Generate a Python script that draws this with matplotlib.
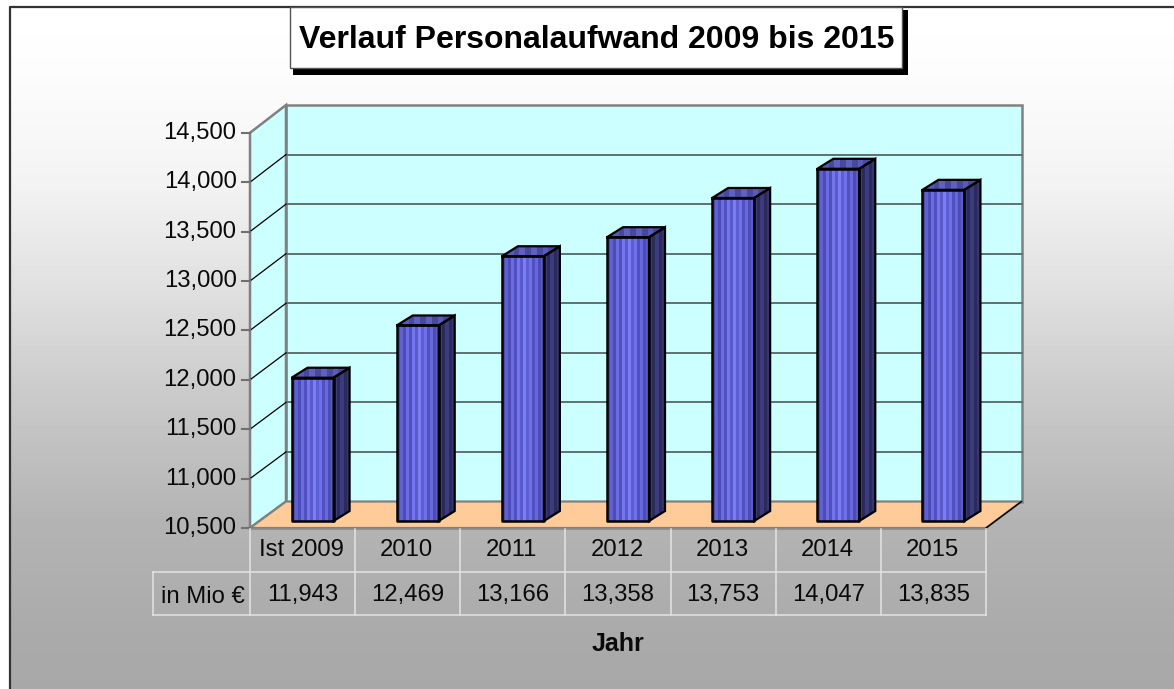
import numpy as np
import matplotlib
matplotlib.use("Agg")
import matplotlib.pyplot as plt
from matplotlib.colors import to_rgb
from matplotlib.patches import Polygon, Rectangle

plt.rcParams['font.family'] = ['Liberation Sans', 'DejaVu Sans']

title = "Verlauf Personalaufwand 2009 bis 2015"
x_title = "Jahr"
row_label = "in Mio €"
categories = ["Ist 2009", "2010", "2011", "2012", "2013", "2014", "2015"]
values = [11943, 12469, 13166, 13358, 13753, 14047, 13835]
y_ticks = [10500, 11000, 11500, 12000, 12500, 13000, 13500, 14000, 14500]

W, H = 1174, 689

# front plane of the fake 3d box, in pixels
x0, x1 = 250, 986
y_base = 528
front_scale = 49.4 / 500
# back wall
xb0, xb1 = 286, 1021.5
wall_base = 501.5
wall_scale = 49.56 / 500
# bars stand a bit behind the front edge
dx_bar, dy_bar = 16, -10
bar_w = 42
bar_shift = 10
bar_base = 521
bar_scale = 49.65 / 500


def front_y(v):
    return y_base - (v - y_ticks[0]) * front_scale


def wall_y(v):
    return wall_base - (v - y_ticks[0]) * wall_scale


def stripes(ax, colors, x_left, x_right, clip=None, y_top=0, y_bot=1):
    arr = np.array([[to_rgb(c) for c in colors]])
    im = ax.imshow(arr, extent=(x_left, x_right, y_bot, y_top), aspect='auto',
                   interpolation='nearest', zorder=4)
    if clip is not None:
        patch = Polygon(clip, closed=True, transform=ax.transData)
        im.set_clip_path(patch)


fig = plt.figure(figsize=(W / 100, H / 100), dpi=100)
ax = fig.add_axes([0, 0, 1, 1])
ax.axis('off')

# background gradient, white at the top and grey at the bottom
rows = np.arange(8, H)
grad = np.interp(rows, [8, 60, 175, 289, 404, 519, 634, 689],
                 [255, 253, 244, 224, 200, 180, 170, 168]).reshape(-1, 1) / 255
ax.imshow(grad, extent=(10, W, H, 8), cmap='gray', vmin=0, vmax=1,
          aspect='auto', zorder=0)
ax.plot([9.5, 9.5, W], [H, 7, 7], color='#333333', lw=1.6, zorder=1)

# walls and floor
wall_c = '#808080'
top_front = front_y(y_ticks[-1])
top_wall = wall_y(y_ticks[-1])
ax.add_patch(Rectangle((xb0, top_wall), xb1 - xb0, wall_base - top_wall,
                       fc='#ccffff', ec=wall_c, lw=1.8, zorder=1))
ax.add_patch(Polygon([(x0, y_base), (x0, top_front), (xb0, top_wall),
                      (xb0, wall_base)],
                     fc='#ccffff', ec=wall_c, lw=1.8, zorder=1))
ax.add_patch(Polygon([(x0, y_base), (x1, y_base), (xb1, wall_base),
                      (xb0, wall_base)],
                     fc='#ffcc99', ec=wall_c, lw=1.6, zorder=2))
ax.plot([x1, xb1], [y_base, wall_base], color='black', lw=1, zorder=3)

for t in y_ticks:
    yy = front_y(t)
    if t != y_ticks[0] and t != y_ticks[-1]:
        ax.plot([xb0, xb1], [wall_y(t), wall_y(t)], color='#607070',
                lw=1.4, zorder=1.5)
        ax.plot([x0, xb0], [yy, wall_y(t)], color='black', lw=0.9, zorder=1.5)
    ax.plot([x0 - 8.5, x0], [yy, yy], color='#707070', lw=1.5, zorder=3)
    ax.text(x0 - 13.5, yy, f"{t:,}", ha='right', va='center', fontsize=17.2,
            color='#0a0a0a', zorder=6)

# bars
step = (x1 - x0) / len(categories)
front_cols = ['#4a4ab0', '#6060d0', '#4c4cb8', '#6c6ce0', '#5050c0', '#7474ec',
              '#5a5acc', '#7c7cf4', '#5e5ed4', '#7070e8', '#5050c0', '#6868dc',
              '#4c4cb8', '#5c5cc8']
side_cols = ['#3c3c7c', '#2a2a5c', '#3c3c7c', '#2a2a5c', '#363670']
top_cols = ['#48489c', '#5a5ab8', '#48489c', '#6060c0', '#48489c', '#6060c0',
            '#48489c', '#5a5ab8', '#48489c', '#5a5ab8']
for i, v in enumerate(values):
    left = x0 + step * (i + 0.5) + bar_shift - bar_w / 2
    right = left + bar_w
    ytop = bar_base - (v - y_ticks[0]) * bar_scale
    stripes(ax, front_cols, left, right, y_top=ytop, y_bot=bar_base)
    side = [(right, ytop), (right + dx_bar, ytop + dy_bar),
            (right + dx_bar, bar_base + dy_bar), (right, bar_base)]
    stripes(ax, side_cols, right, right + dx_bar, clip=side,
            y_top=ytop + dy_bar, y_bot=bar_base)
    roof = [(left, ytop), (left + dx_bar, ytop + dy_bar),
            (right + dx_bar, ytop + dy_bar), (right, ytop)]
    stripes(ax, top_cols, left, right + dx_bar, clip=roof,
            y_top=ytop + dy_bar, y_bot=ytop)
    ax.plot([left, right, right, left, left],
            [ytop, ytop, bar_base, bar_base, ytop], color='black', lw=1.8, zorder=5)
    ax.add_patch(Polygon(side, fill=False, ec='black', lw=1.6, zorder=5))
    ax.add_patch(Polygon(roof, fill=False, ec='black', lw=1.6, zorder=5))

# data table under the chart
row1, row2 = 572, 615
table_c = '#e4e4e4'
x_lab = 153
ax.plot([x0, x1], [y_base + 1, y_base + 1], color='#8c8c8c', lw=1.2, zorder=3)
ax.plot([x_lab, x1], [row1, row1], color=table_c, lw=1.1, zorder=3)
ax.plot([x_lab, x1], [row2, row2], color=table_c, lw=1.1, zorder=3)
ax.plot([x_lab, x_lab], [row1, row2], color=table_c, lw=1.1, zorder=3)
for i in range(len(categories) + 1):
    xx = x0 + step * i
    ax.plot([xx, xx], [y_base + 1, row2], color=table_c, lw=1.1, zorder=3)
for i, (cat, v) in enumerate(zip(categories, values)):
    xx = x0 + step * (i + 0.5)
    ax.text(xx - 1, 549.5, cat, ha='center', va='center', fontsize=17.2, color='#0a0a0a')
    ax.text(xx, 594.5, f"{v:,}", ha='center', va='center', fontsize=17.2, color='#0a0a0a')
ax.text((x_lab + x0) / 2 + 1, 597, row_label, ha='center', va='center', fontsize=17.2,
        color='#0a0a0a')
ax.text(618, 644, x_title, ha='center', va='center', fontsize=18, fontweight='bold',
        color='#0a0a0a')

# title box with hard shadow
ax.add_patch(Rectangle((293, 10), 615, 65, fc='black', ec='none', zorder=6))
ax.add_patch(Rectangle((290, 7), 612, 61, fc='white', ec='#555555', lw=1, zorder=7))
ax.text(596.5, 39.5, title, ha='center', va='center', fontsize=23, fontweight='bold',
        color='black', zorder=8)

ax.set_xlim(0, W)
ax.set_ylim(H, 0)
fig.savefig("out.png", dpi=100, facecolor='white')
